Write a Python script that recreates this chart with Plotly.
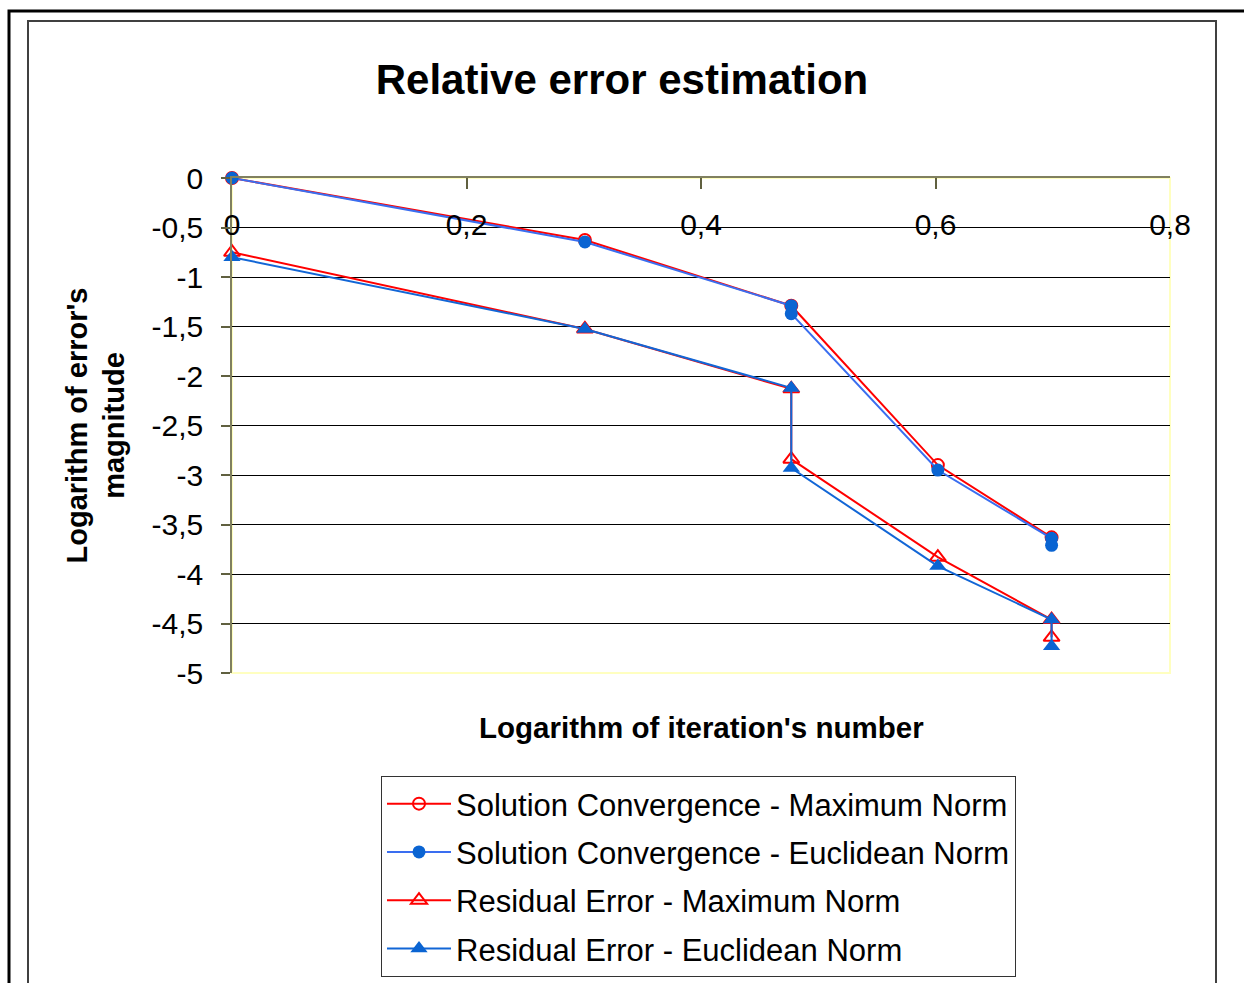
import plotly.graph_objects as go

# log10 of iteration number
x_solution_max = [0.0, 0.301, 0.477, 0.602, 0.699]
y_solution_max = [0.0, -0.626, -1.29, -2.90, -3.63]

x_solution_euc = [0.0, 0.301, 0.477, 0.477, 0.602, 0.699, 0.699]
y_solution_euc = [0.0, -0.646, -1.29, -1.37, -2.95, -3.64, -3.71]

x_residual_max = [0.0, 0.301, 0.477, 0.477, 0.602, 0.699, 0.699]
y_residual_max = [-0.75, -1.525, -2.13, -2.84, -3.83, -4.46, -4.64]

x_residual_euc = [0.0, 0.301, 0.477, 0.477, 0.602, 0.699, 0.699]
y_residual_euc = [-0.80, -1.525, -2.12, -2.93, -3.92, -4.46, -4.73]

series_names = [
    "Solution Convergence - Maximum Norm",
    "Solution Convergence - Euclidean Norm",
    "Residual Error - Maximum Norm",
    "Residual Error - Euclidean Norm",
]

x_tick_vals = [0.0, 0.2, 0.4, 0.6, 0.8]
x_tick_text = ["0", "0,2", "0,4", "0,6", "0,8"]
y_tick_vals = [0, -0.5, -1, -1.5, -2, -2.5, -3, -3.5, -4, -4.5, -5]
y_tick_text = ["0", "-0,5", "-1", "-1,5", "-2", "-2,5", "-3", "-3,5", "-4", "-4,5", "-5"]

FONT = "Liberation Sans, Arial, sans-serif"
RED = "#FF0000"
BLUE_MARK = "#0A64D2"
BLUE_LINE_SOL = "#3A6EF0"
BLUE_LINE_RES = "#1266D6"

W, H = 1244, 983
L, R, T, B = 232, 1170, 178, 673


def px(x):
    return (x - L) / (R - L)


def py(y):
    return (B - y) / (B - T)


fig = go.Figure()

fig.add_trace(go.Scatter(
    x=x_solution_max, y=y_solution_max, name=series_names[0], mode="lines+markers",
    line=dict(color=RED, width=2), cliponaxis=False,
    marker=dict(symbol="circle-open", size=12, color=RED, line=dict(color=RED, width=2)),
    legendgroup="a",
))
fig.add_trace(go.Scatter(
    x=x_solution_euc, y=y_solution_euc, name=series_names[1], mode="lines+markers",
    line=dict(color=BLUE_LINE_SOL, width=2), cliponaxis=False,
    marker=dict(symbol="circle", size=13, color=BLUE_MARK),
    legendgroup="b",
))
fig.add_trace(go.Scatter(
    x=x_residual_max, y=y_residual_max, name=series_names[2], mode="lines+markers",
    line=dict(color=RED, width=2), cliponaxis=False,
    marker=dict(symbol="triangle-up-open", size=14, color=RED, line=dict(color=RED, width=2)),
    legendgroup="c",
))
fig.add_trace(go.Scatter(
    x=x_residual_euc, y=y_residual_euc, name=series_names[3], mode="lines+markers",
    line=dict(color=BLUE_LINE_RES, width=2), cliponaxis=False,
    marker=dict(symbol="triangle-up", size=15, color=BLUE_MARK),
    legendgroup="d",
))

shapes = [
    # plot area border (light yellow)
    dict(type="rect", xref="paper", yref="paper", x0=0, x1=1, y0=0, y1=1,
         line=dict(color="#FFFFC0", width=2), layer="below"),
    # outer frames
    dict(type="rect", xref="paper", yref="paper", x0=px(9), x1=px(1260), y0=py(1000), y1=py(11),
         line=dict(color="black", width=3)),
    dict(type="rect", xref="paper", yref="paper", x0=px(28), x1=px(1216), y0=py(1000), y1=py(21),
         line=dict(color="#404040", width=2)),
]

annotations = [
    dict(text="<b>Logarithm of iteration's number</b>", xref="paper", yref="paper",
         x=0.5, y=py(727), xanchor="center", yanchor="middle", showarrow=False,
         font=dict(family=FONT, size=29.5, color="black")),
    dict(text="<b>Logarithm of error's<br>magnitude</b>", xref="paper", yref="paper",
         x=px(95), y=0.5, xanchor="center", yanchor="middle", showarrow=False, textangle=-90,
         font=dict(family=FONT, size=29, color="black")),
]

fig.update_layout(
    width=W, height=H,
    margin=dict(l=L, r=W - R, t=T, b=H - B, pad=0, autoexpand=False),
    paper_bgcolor="white", plot_bgcolor="white",
    font=dict(family=FONT, color="black"),
    title=dict(text="<b>Relative error estimation</b>", x=0.5, xref="container", xanchor="center",
               y=1 - 79 / H, yanchor="middle", font=dict(family=FONT, size=42, color="black")),
    showlegend=True,
    legend=dict(x=px(381), y=py(776), xanchor="left", yanchor="top",
                bgcolor="white", bordercolor="#333333", borderwidth=1,
                font=dict(family=FONT, size=31, color="black"),
                itemwidth=64,
                traceorder="grouped", tracegroupgap=5),
    xaxis=dict(range=[0, 0.8], side="top", tickvals=x_tick_vals, ticktext=x_tick_text,
               showgrid=False, zeroline=False, showline=True, linecolor="#808060", linewidth=1.5,
               ticks="inside", ticklen=11, tickcolor="#606040", tickwidth=1.5,
               ticklabelposition="outside", ticklabelstandoff=-71, automargin=False,
               tickfont=dict(family=FONT, size=30, color="black"), fixedrange=True),
    yaxis=dict(range=[-5, 0], tickvals=y_tick_vals, ticktext=y_tick_text,
               showgrid=True, gridcolor="black", gridwidth=1, zeroline=False,
               showline=True, linecolor="#808060", linewidth=1.5,
               ticks="outside", ticklen=9, tickcolor="#606040", tickwidth=1.5,
               ticklabelstandoff=12, automargin=False,
               tickfont=dict(family=FONT, size=30, color="black"), fixedrange=True),
    shapes=shapes,
    annotations=annotations,
)

fig.write_html("out.html")
